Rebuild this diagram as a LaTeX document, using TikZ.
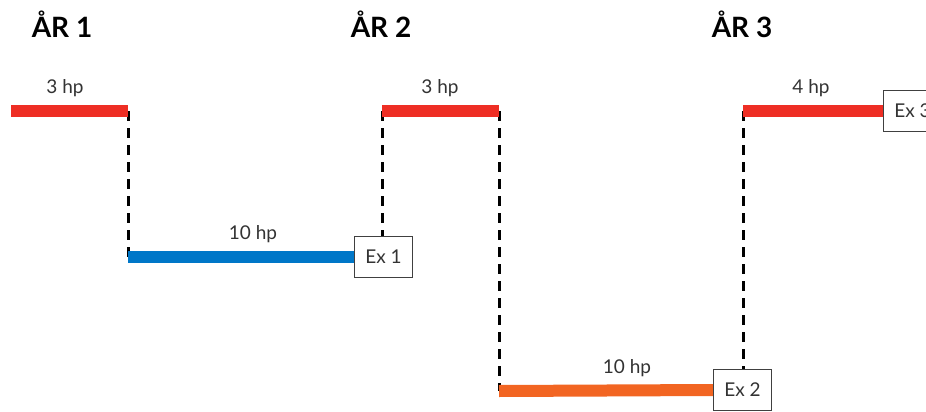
\documentclass[tikz,border=0pt]{standalone}
\usepackage{fontspec}
\setmainfont{Lato}
\usetikzlibrary{backgrounds}
\begin{document}
\begin{tikzpicture}[x=1pt,y=-1pt,
  bar/.style={line width=12pt},
  dline/.style={line width=3pt,dash pattern=on 10pt off 7pt},
  lbl/.style={font=\fontsize{19}{19}\selectfont,text=black!80,inner sep=0pt},
  hdr/.style={font=\fontsize{28}{28}\selectfont\bfseries,inner sep=0pt},
  exbox/.style={draw=black!75,line width=0.9pt,fill=white,minimum width=58pt,minimum height=41pt,inner sep=0pt,font=\fontsize{19}{19}\selectfont,text=black!80}]
\definecolor{cred}{HTML}{EE2E24}
\definecolor{cblue}{HTML}{0077C8}
\definecolor{corange}{HTML}{F26522}
\useasboundingbox (0,0) rectangle (926,412);
% headings
\node[hdr] (h1) at (62,24) {ÅR 1};
\node[hdr] (h2) at (381,24) {ÅR 2};
\node[hdr] (h3) at (742,24) {ÅR 3};
% coordinates
\coordinate (a0) at (11,111);
\coordinate (a1) at (128,111);
\coordinate (b0) at (128,257);
\coordinate (c0) at (382,111);
\coordinate (c1) at (499,111);
\coordinate (d0) at (499,391);
\coordinate (e0) at (743,111);
% boxes
\node[exbox] (ex1) at (383.5,257) {Ex 1};
\node[exbox] (ex2) at (742.5,390) {Ex 2};
\node[exbox,anchor=west] (ex3) at (883,111) {Ex 3};
\begin{pgfonlayer}{background}
% dashed verticals
\draw[dline] (a1) -- (b0);
\draw[dline] (c0) -- (c0 |- ex1.north);
\draw[dline] (c1) -- (d0);
\draw[dline] (e0) -- (e0 |- ex2.north);
% bars
\draw[bar,cred] (a0) -- (a1);
\draw[bar,cblue] (b0) -- (ex1.west);
\draw[bar,cred] (c0) -- (c1);
\draw[bar,corange] (d0) -- (ex2.west);
\draw[bar,cred] (e0) -- (ex3.west);
\end{pgfonlayer}
% labels
\node[lbl] (l1) at (65,88) {3 hp};
\node[lbl] (l2) at (253,234) {10 hp};
\node[lbl] (l3) at (440,88) {3 hp};
\node[lbl] (l4) at (627,368) {10 hp};
\node[lbl] (l5) at (811,88) {4 hp};
\end{tikzpicture}
\end{document}
